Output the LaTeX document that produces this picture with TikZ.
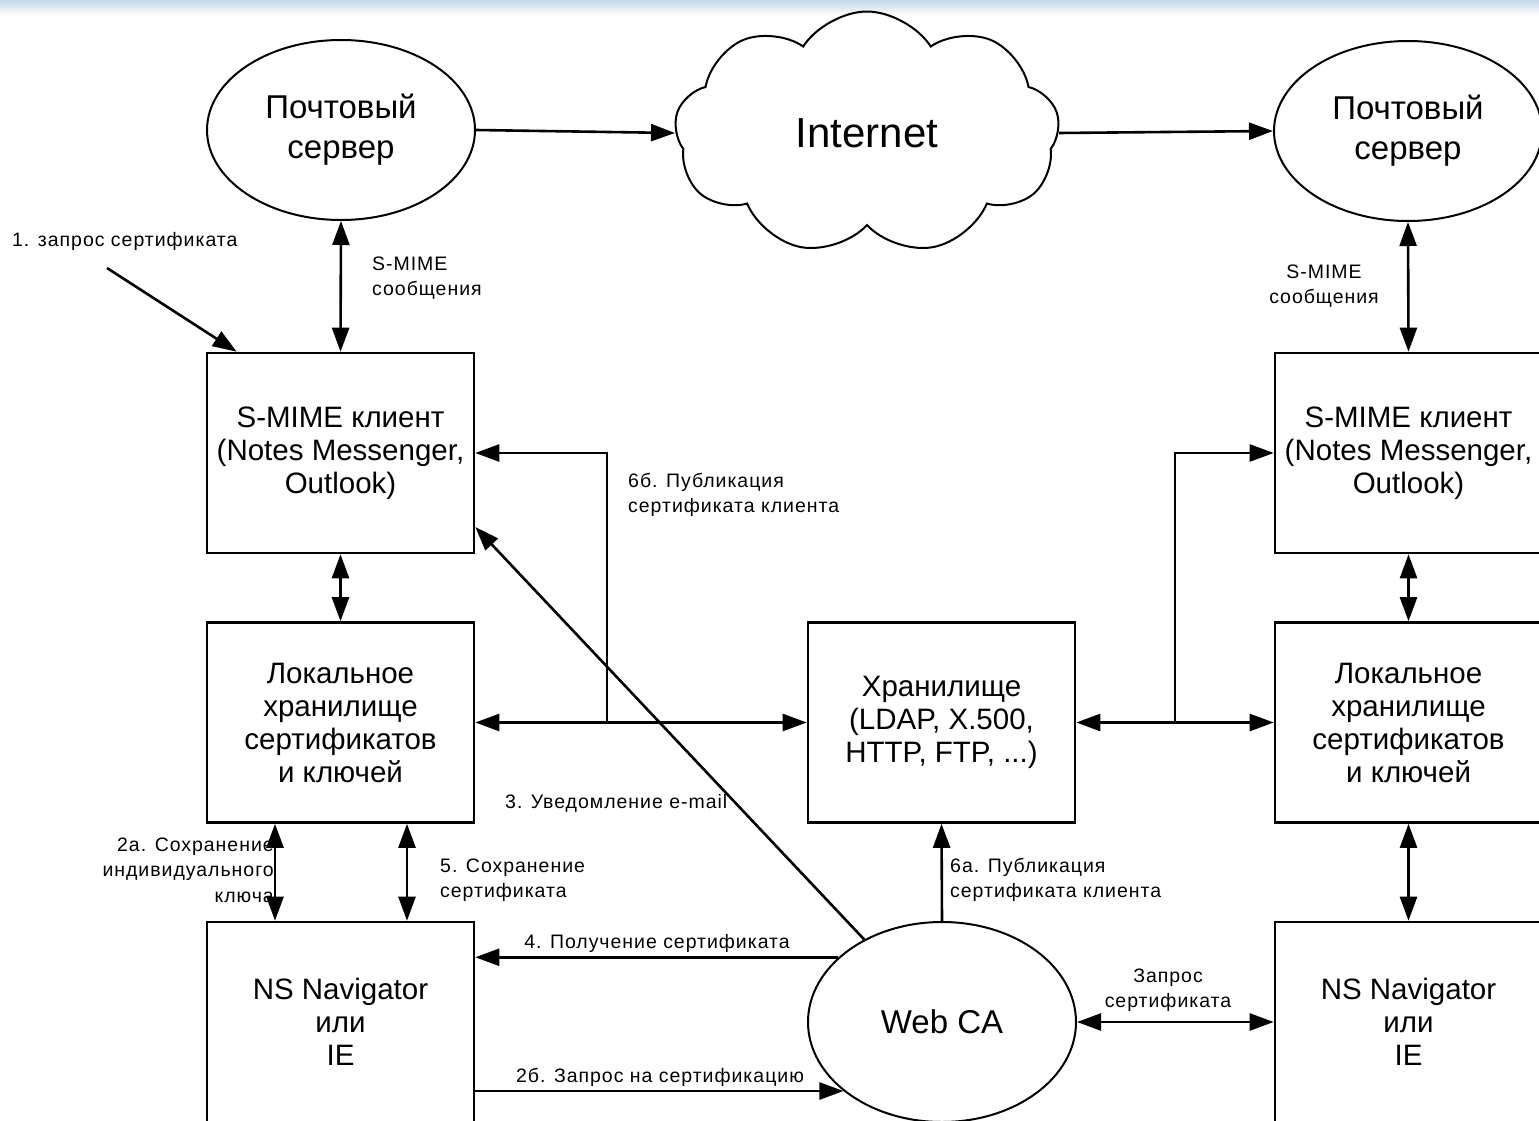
\documentclass[tikz,border=0pt]{standalone}
\usepackage{fontspec}
\setmainfont{Liberation Sans}
\newfontfamily\spacedsans[LetterSpace=5]{Liberation Sans}
\usetikzlibrary{arrows.meta,shapes.geometric,shapes.symbols}

\definecolor{bandblue}{RGB}{196,218,234}

\begin{document}
\begin{tikzpicture}[x=1pt,y=-1pt,
  box/.style={draw,line width=2.6pt,minimum width=267pt,minimum height=200pt,
    inner sep=0pt,align=center,font=\fontsize{29.5}{33}\selectfont},
  srv/.style={draw,ellipse,line width=2pt,minimum width=268pt,minimum height=180pt,
    inner sep=0pt,align=center,font=\fontsize{33}{40}\selectfont},
  lbl/.style={font=\spacedsans\fontsize{19.5}{25.5}\selectfont,inner sep=0pt},
  tip/.tip={Triangle[length=24pt,width=17pt]},
  arr/.style={line width=2.6pt,-tip},
  dbl/.style={line width=2.6pt,tip-tip},
]
\useasboundingbox (0,0) rectangle (1539,1121);
\clip (0,0) rectangle (1539,1121);

% background with a thin band along the top edge
\fill[white] (0,0) rectangle (1539,1121);
\shade[top color=bandblue,bottom color=white] (0,0) rectangle (1539,16);

% servers and the network
\node[srv] (srvL) at (341,130) {Почтовый\\сервер};
\node[srv] (srvR) at (1408,131) {Почтовый\\сервер};
\node[draw,cloud,cloud puffs=9,cloud puff arc=115,aspect=1.6,line width=2pt,
  minimum width=385pt,minimum height=243pt,inner sep=0pt,
  font=\fontsize{42}{50}\selectfont] (inet) at (867,133) {Internet};

% left column
\node[box] (smimeL) at (340.5,453) {S-MIME клиент\\(Notes Messenger,\\Outlook)};
\node[box] (locL) at (340.5,722.5) {Локальное\\хранилище\\сертификатов\\и ключей};
\node[box] (navL) at (340.5,1022) {NS Navigator\\или\\IE};

% right column
\node[box] (smimeR) at (1408.5,453) {S-MIME клиент\\(Notes Messenger,\\Outlook)};
\node[box] (locR) at (1408.5,722.5) {Локальное\\хранилище\\сертификатов\\и ключей};
\node[box] (navR) at (1408.5,1022) {NS Navigator\\или\\IE};

% centre
\node[box] (store) at (941.5,722.5) {Хранилище\\(LDAP, X.500,\\HTTP, FTP, ...)};
\node[srv,minimum height=200pt] (ca) at (942,1022) {Web CA};

% mail flow
\draw[arr] (srvL.east) -- (inet.west);
\draw[arr] (inet.east) -- (srvR.west);
\draw[dbl] (srvL.south) -- (smimeL.north);
\draw[dbl] (srvR.south) -- (smimeR.north);
\node[lbl,anchor=west,align=left] (smimeTxtL) at (372,278) {S-MIME\\сообщения};
\node[lbl,align=center] (smimeTxtR) at (1324,286) {S-MIME\\сообщения};

% certificate request
\coordinate (req) at (107,268);
\draw[arr] (req) -- ([xshift=31pt]smimeL.north west);
\node[lbl,anchor=west] (reqTxt) at (12,241) {1. запрос сертификата};

% client stacks
\draw[dbl] (smimeL.south) -- (locL.north);
\draw[dbl] ([xshift=-65.5pt]locL.south) -- ([xshift=-65.5pt]navL.north);
\draw[dbl] ([xshift=66.5pt]locL.south) -- ([xshift=66.5pt]navL.north);
\draw[dbl] (smimeR.south) -- (locR.north);
\draw[dbl] (locR.south) -- (navR.north);
\node[lbl,anchor=east,align=right] (keyTxt) at (274,870) {2а. Сохранение\\индивидуального\\ключа};
\node[lbl,anchor=west,align=left] (saveTxt) at (440,880) {5. Сохранение\\сертификата};

% repository links
\draw[dbl] (locL.east) -- (store.west);
\coordinate (jL) at (607,722.5);
\draw[arr] (jL) |- (smimeL.east);
\node[lbl,anchor=west,align=left] (pubB) at (628,495) {6б. Публикация\\сертификата клиента};

\draw[dbl] (store.east) -- (locR.west);
\coordinate (jR) at (1175,722.5);
\draw[arr] (jR) |- (smimeR.west);

% Web CA links
\draw[arr] (ca) -- ([yshift=-74pt]smimeL.east);
\node[lbl,anchor=west] (mailTxt) at (505,803) {3. Уведомление e-mail};

\draw[arr] (ca.148) -- (ca.148 -| navL.east);
\node[lbl] (getTxt) at (657,943) {4. Получение сертификата};

\draw[arr] (ca.215 -| navL.east) -- (ca.215);
\node[lbl] (askTxt) at (660,1077) {2б. Запрос на сертификацию};

\draw[arr] (ca.north) -- (store.south);
\node[lbl,anchor=west,align=left] (pubA) at (950,880) {6а. Публикация\\сертификата клиента};

\draw[dbl] (ca.east) -- (navR.west);
\node[lbl,align=center] (reqR) at (1168,990) {Запрос\\сертификата};

\end{tikzpicture}
\end{document}
